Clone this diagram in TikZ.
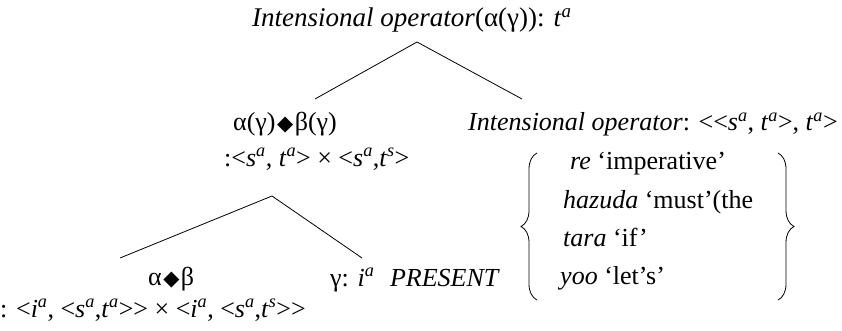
\documentclass[tikz,border=0pt]{standalone}
\usepackage{fontspec}
\setmainfont{Liberation Serif}
\newfontfamily\symfnt{DejaVu Sans}
\usetikzlibrary{decorations.pathreplacing}
\newcommand\supit[1]{\textsuperscript{\itshape #1}}
\newcommand\dmd{\kern1.5pt{\symfnt\fontsize{21}{21}\selectfont ◆}\kern1.5pt}
\newcommand\lt{<}
\newcommand\gt{>}
\begin{document}
\begin{tikzpicture}[x=1pt,y=-1pt,
  txt/.style={inner sep=0pt, anchor=base west, font=\fontsize{26}{30}\selectfont},
  branch/.style={line width=0.8pt},
  bracepath/.style={line width=0.8pt, decorate, decoration={brace, amplitude=16pt}}]
\useasboundingbox (0,0) rectangle (842,331);
% texts
\node[txt, font=\fontsize{27}{30}\selectfont] (root) at (252,27) {\textit{Intensional operator}(α(γ)): \textit{t}\supit{a}};
\node[txt] (ab) at (233,131) {α(γ)\dmd β(γ)};
\node[txt] (abtype) at (224,166) {:\lt\textit{s}\supit{a}, \textit{t}\supit{a}\gt{} × \lt\textit{s}\supit{a},\textit{t}\supit{s}\gt};
\node[txt] (op) at (468,131) {\textit{Intensional operator}: \lt{}\lt\textit{s}\supit{a}, \textit{t}\supit{a}\gt, \textit{t}\supit{a}\gt};
\node[txt] (alpha) at (148,285) {α\dmd β};
\node[txt] (gamma) at (330,286) {γ: \textit{i}\supit{a}\hspace{0.6em}\textit{PRESENT}};
\node[txt] (bottype) at (0,317) {: \lt\textit{i}\supit{a}, \lt\textit{s}\supit{a},\textit{t}\supit{a}\gt{}\gt{} × \lt\textit{i}\supit{a}, \lt\textit{s}\supit{a},\textit{t}\supit{s}\gt{}\gt};
\node[txt] (re) at (570,170) {\textit{re} ‘imperative’};
\node[txt] (hazuda) at (563,208) {\textit{hazuda} ‘must’(the};
\node[txt] (tara) at (563,246) {\textit{tara} ‘if’};
\node[txt] (yoo) at (560,284) {\textit{yoo} ‘let’s’};
% branch points
\coordinate (rapex) at (417,42);
\coordinate (rleft) at (315,99);
\coordinate (rright) at (522,99);
\coordinate (mapex) at (272,196);
\coordinate (mleft) at (120,258);
\coordinate (mright) at (362,258);
\draw[branch] (rleft) -- (rapex) -- (rright);
\draw[branch] (mleft) -- (mapex) -- (mright);
% braces
\coordinate (lbbot) at (537,300);
\coordinate (lbtop) at (537,153);
\coordinate (rbtop) at (778,153);
\coordinate (rbbot) at (778,300);
\draw[bracepath] (lbbot) -- (lbtop);
\draw[bracepath] (rbtop) -- (rbbot);
\end{tikzpicture}
\end{document}
